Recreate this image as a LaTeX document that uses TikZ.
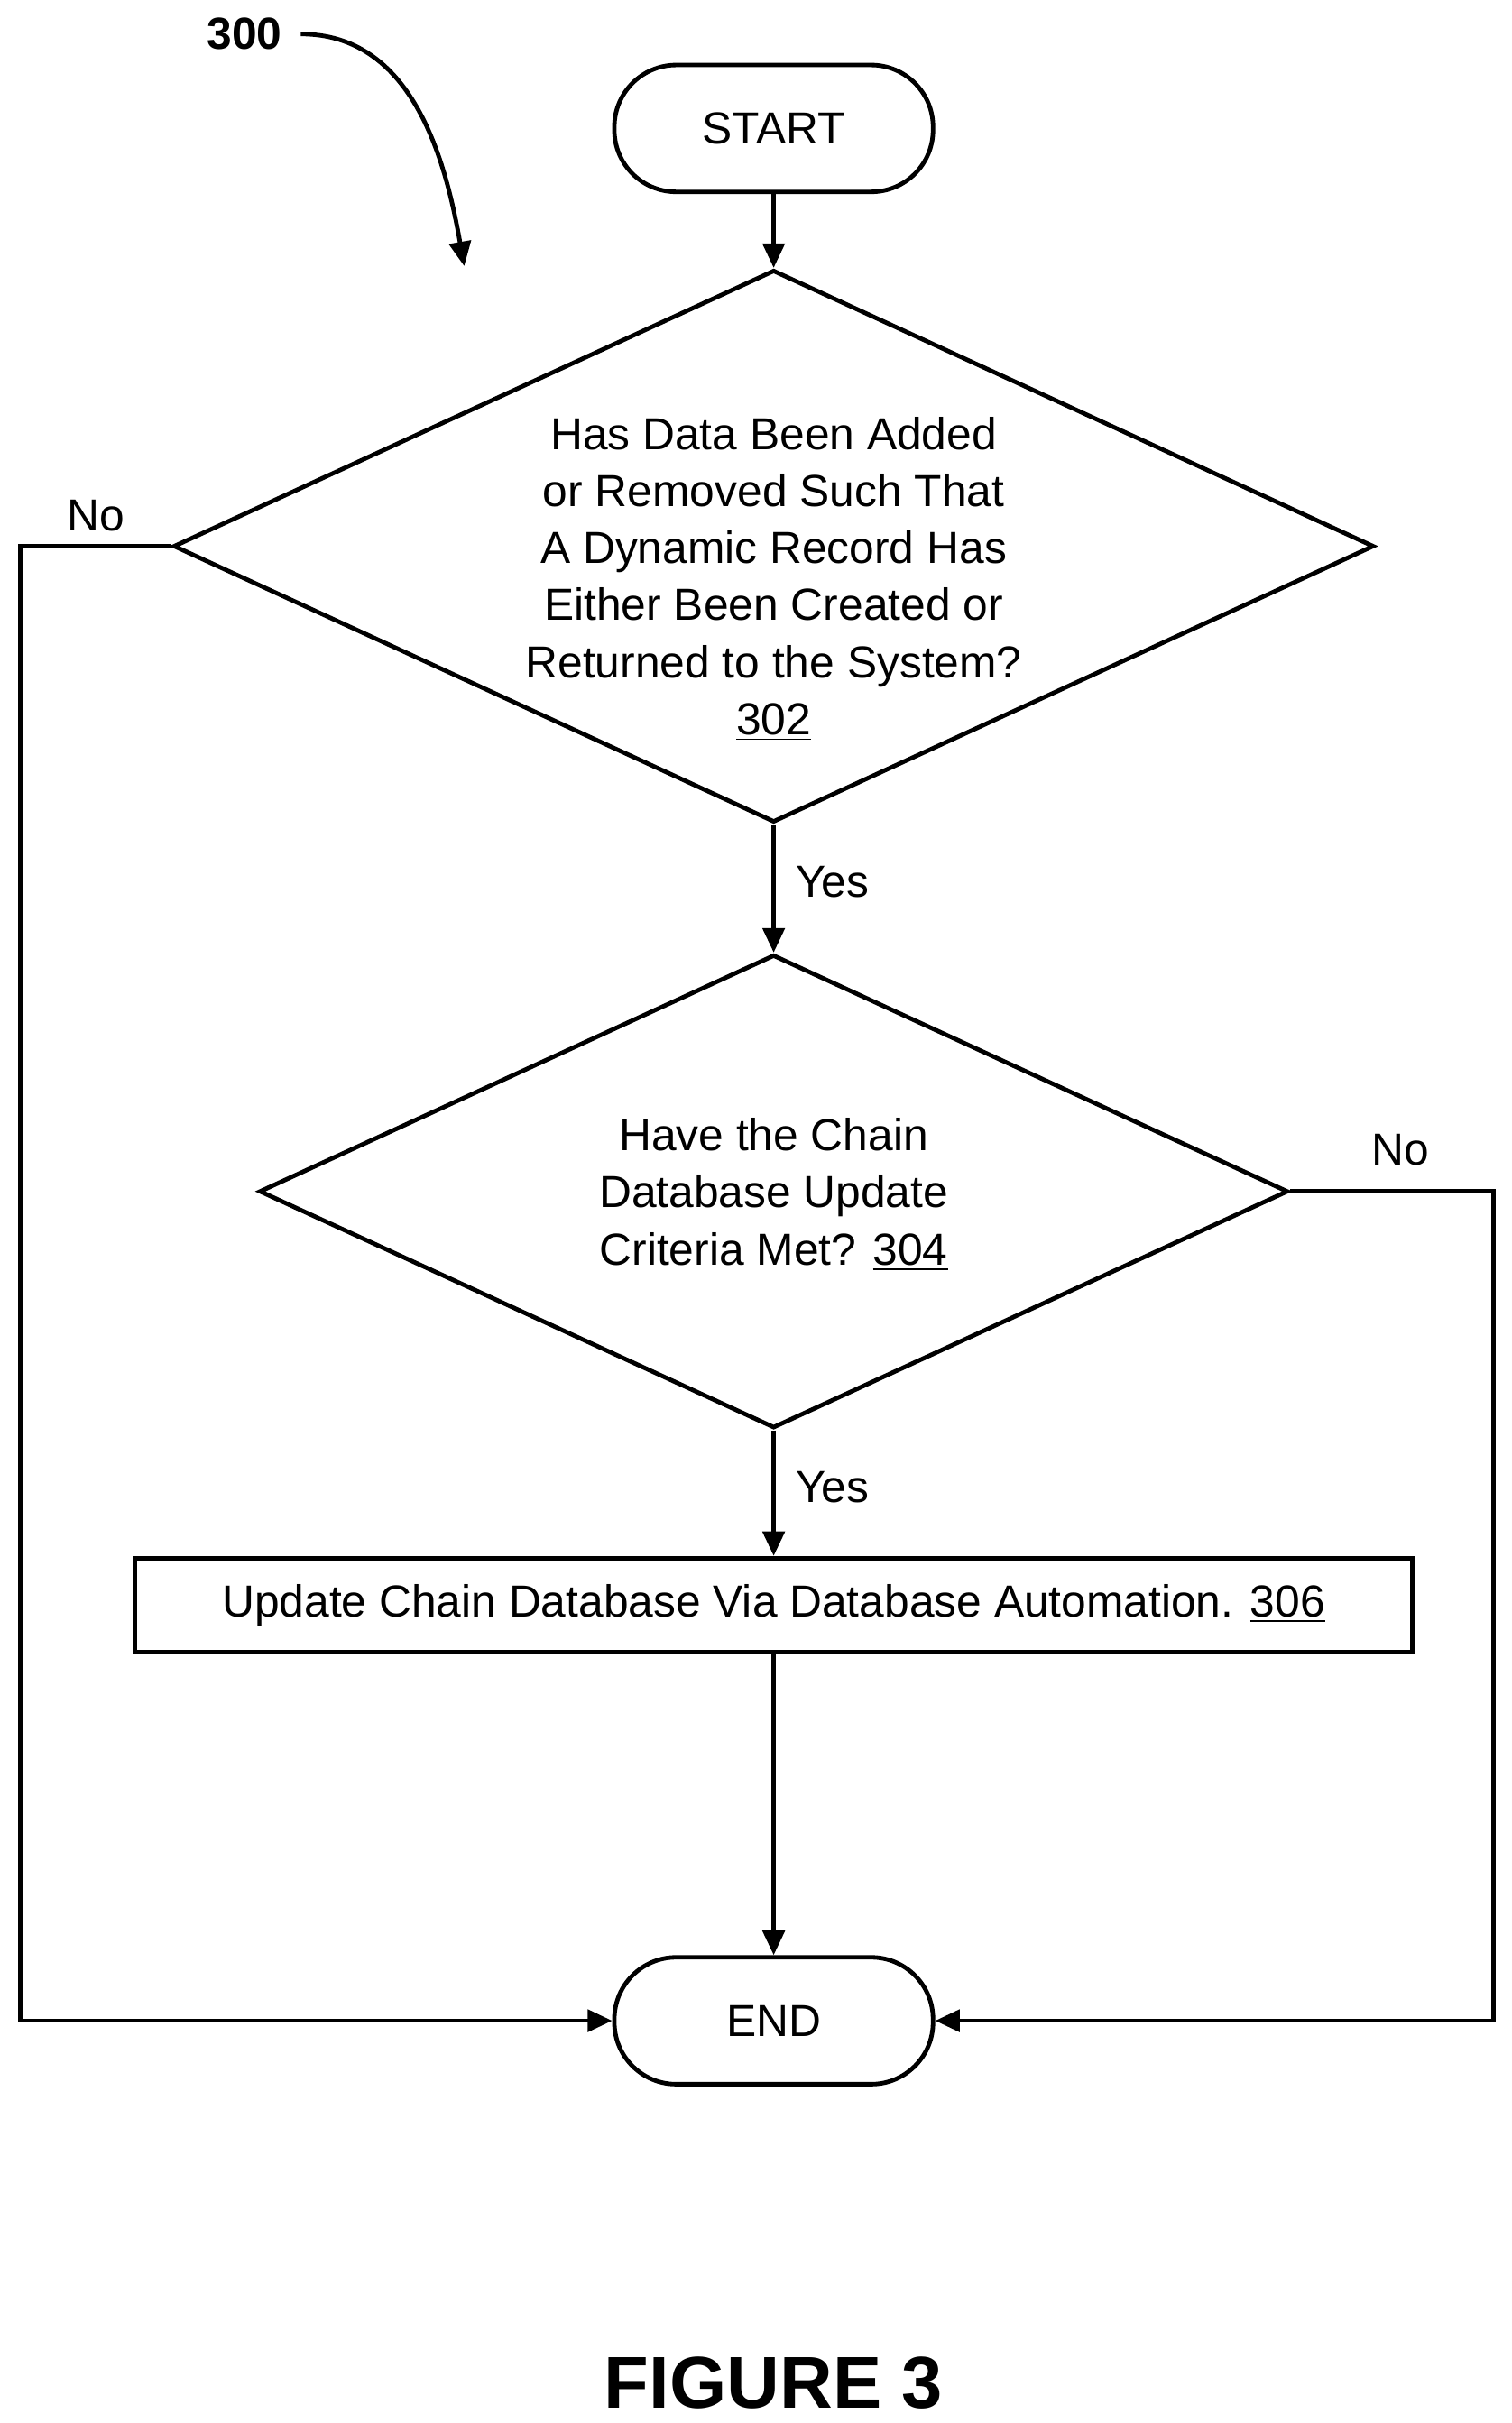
\documentclass[tikz,border=0pt]{standalone}
\usepackage{fontspec}
\setmainfont{Liberation Sans}
\usetikzlibrary{arrows.meta,shapes.geometric,positioning}
\begin{document}
\begin{tikzpicture}[
    x=0.02cm, y=-0.02cm,
    every node/.style={font=\fontsize{16.5}{21}\selectfont, align=center},
    term/.style={draw, line width=1.6pt, rounded corners=0.8cm, minimum width=4.12cm, minimum height=1.64cm},
    decision/.style={draw, diamond, line width=1.6pt, inner sep=0pt},
    process/.style={draw, line width=1.6pt, minimum width=16.52cm, minimum height=1.22cm},
    arrow/.style={-{Triangle[length=9pt,width=8pt]}, line width=1.6pt},
    line/.style={line width=1.6pt}
]
    \useasboundingbox (0,0) rectangle (977,1566);
    % Terminals
    \node[term] (start) at (500,83) {START};
    \node[term] (end) at (500,1306) {END};

    % Decisions
    \node[decision, minimum width=15.52cm, minimum height=7.14cm] (check) at (500,353) {};
    \node (checktext) at (500,374) {Has Data Been Added\\or Removed Such That\\A Dynamic Record Has\\Either Been Created or\\Returned to the System?\\\underline{302}};
    \node[decision, minimum width=13.3cm, minimum height=6.12cm] (criteria) at (500,770) {};
    \node (criteriatext) at (500,772) {Have the Chain\\Database Update\\Criteria Met? \underline{304}};

    % Step
    \node[process] (update) at (500,1037.5) {Update Chain Database Via Database Automation. \underline{306}};

    % Corner points
    \coordinate (nl) at (13,353);
    \coordinate (nr) at (965,770);

    % Arrows
    \draw[arrow] (start) -- (check.north);
    \draw[arrow] (check.south) -- node[right, xshift=4pt, pos=0.45] {Yes} (criteria.north);
    \draw[arrow] (criteria.south) -- node[right, xshift=4pt, pos=0.45] {Yes} (update);
    \draw[arrow] (update) -- (end);
    \draw[arrow] (check.west) -- (nl) |- (end.west);
    \draw[arrow] (criteria.east) -- (nr) |- (end.east);
    \node at (62,333) {No};
    \node at (905,743) {No};

    % Reference label
    \node[font=\bfseries\fontsize{16.5}{20}\selectfont] (ref) at (158,22) {300};
    \draw[arrow] (ref.east) ++(6,0) coordinate (refa) to[out=0, in=100] (300,172);

    % Caption
    \node[font=\bfseries\fontsize{27}{32}\selectfont] (caption) at (500,1540) {FIGURE 3};
\end{tikzpicture}
\end{document}
